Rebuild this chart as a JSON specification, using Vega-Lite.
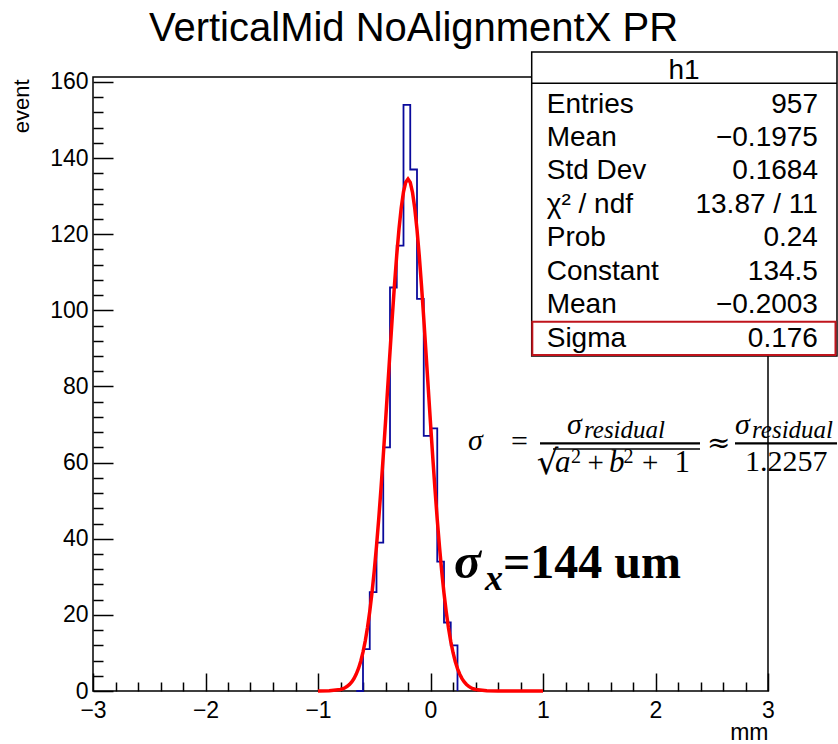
{
  "$schema": "https://vega.github.io/schema/vega-lite/v6.json",
  "width": 675,
  "height": 614,
  "autosize": {"type": "none"},
  "padding": {"left": 93, "top": 77, "right": 70, "bottom": 53},
  "background": "white",
  "config": {
    "view": {"stroke": "black", "strokeWidth": 1.5, "fill": "white"},
    "text": {"font": "Liberation Sans", "color": "black"}
  },
  "title": {
    "text": "VerticalMid NoAlignmentX PR",
    "font": "Liberation Sans",
    "fontSize": 40,
    "fontWeight": "normal",
    "color": "black",
    "anchor": "middle",
    "frame": "group",
    "dx": -17,
    "offset": -30,
    "baseline": "alphabetic"
  },
  "datasets": {
    "hist": [
      {"bin": -0.66, "count": 0},
      {"bin": -0.60, "count": 11},
      {"bin": -0.54, "count": 26},
      {"bin": -0.48, "count": 39},
      {"bin": -0.42, "count": 64},
      {"bin": -0.36, "count": 106},
      {"bin": -0.30, "count": 117},
      {"bin": -0.24, "count": 154},
      {"bin": -0.18, "count": 137},
      {"bin": -0.12, "count": 103},
      {"bin": -0.06, "count": 67},
      {"bin": 0.00, "count": 69},
      {"bin": 0.06, "count": 34},
      {"bin": 0.12, "count": 18},
      {"bin": 0.18, "count": 12},
      {"bin": 0.24, "count": 0}
    ],
    "fit": [
      {"x": -1.0, "f": 0.004}, {"x": -0.9, "f": 0.05}, {"x": -0.8, "f": 0.41},
      {"x": -0.78, "f": 0.59}, {"x": -0.76, "f": 0.86}, {"x": -0.74, "f": 1.22},
      {"x": -0.72, "f": 1.72}, {"x": -0.70, "f": 2.39}, {"x": -0.68, "f": 3.28},
      {"x": -0.66, "f": 4.44}, {"x": -0.64, "f": 5.93}, {"x": -0.62, "f": 7.83},
      {"x": -0.60, "f": 10.20}, {"x": -0.58, "f": 13.13}, {"x": -0.56, "f": 16.66},
      {"x": -0.54, "f": 20.88}, {"x": -0.52, "f": 25.84}, {"x": -0.50, "f": 31.56},
      {"x": -0.48, "f": 38.04}, {"x": -0.46, "f": 45.28}, {"x": -0.44, "f": 53.21},
      {"x": -0.42, "f": 61.71}, {"x": -0.40, "f": 70.65}, {"x": -0.38, "f": 79.87},
      {"x": -0.36, "f": 89.11}, {"x": -0.34, "f": 98.16}, {"x": -0.32, "f": 106.73},
      {"x": -0.30, "f": 114.56}, {"x": -0.28, "f": 121.40}, {"x": -0.26, "f": 126.98},
      {"x": -0.24, "f": 131.12}, {"x": -0.22, "f": 133.66}, {"x": -0.20, "f": 134.50},
      {"x": -0.18, "f": 133.61}, {"x": -0.16, "f": 131.02}, {"x": -0.14, "f": 126.83},
      {"x": -0.12, "f": 121.20}, {"x": -0.10, "f": 114.34}, {"x": -0.08, "f": 106.48},
      {"x": -0.06, "f": 97.88}, {"x": -0.04, "f": 88.83}, {"x": -0.02, "f": 79.59},
      {"x": 0.00, "f": 70.38}, {"x": 0.02, "f": 61.45}, {"x": 0.04, "f": 52.96},
      {"x": 0.06, "f": 45.05}, {"x": 0.08, "f": 37.84}, {"x": 0.10, "f": 31.37},
      {"x": 0.12, "f": 25.68}, {"x": 0.14, "f": 20.74}, {"x": 0.16, "f": 16.54},
      {"x": 0.18, "f": 13.03}, {"x": 0.20, "f": 10.12}, {"x": 0.22, "f": 7.77},
      {"x": 0.24, "f": 5.88}, {"x": 0.26, "f": 4.40}, {"x": 0.28, "f": 3.25},
      {"x": 0.30, "f": 2.37}, {"x": 0.32, "f": 1.70}, {"x": 0.34, "f": 1.21},
      {"x": 0.36, "f": 0.85}, {"x": 0.38, "f": 0.59}, {"x": 0.40, "f": 0.41},
      {"x": 0.5, "f": 0.05}, {"x": 0.6, "f": 0.003}, {"x": 0.8, "f": 0}, {"x": 1.0, "f": 0}
    ],
    "stats": [
      {"row": 1, "label": "Entries", "value": "957"},
      {"row": 2, "label": "Mean", "value": "−0.1975"},
      {"row": 3, "label": "Std Dev", "value": "0.1684"},
      {"row": 4, "label": "χ² / ndf", "value": "13.87 / 11"},
      {"row": 5, "label": "Prob", "value": "0.24"},
      {"row": 6, "label": "Constant", "value": "134.5"},
      {"row": 7, "label": "Mean", "value": "−0.2003"},
      {"row": 8, "label": "Sigma", "value": "0.176"}
    ]
  },
  "resolve": {"scale": {"y": "independent"}},
  "layer": [
    {
      "resolve": {"axis": {"x": "independent", "y": "independent"}},
      "layer": [
        {
          "data": {"name": "hist"},
          "mark": {"type": "line", "interpolate": "step-after", "color": "#0a0a9c", "strokeWidth": 1.8},
          "encoding": {
            "x": {
              "field": "bin", "type": "quantitative",
              "scale": {"domain": [-3, 3], "nice": false, "zero": false},
              "axis": {
                "orient": "bottom",
                "values": [-3, -2, -1, 0, 1, 2, 3],
                "format": "d",
                "tickSize": -18,
                "tickColor": "black", "tickWidth": 1.5,
                "domain": false, "grid": false,
                "labelFont": "Liberation Sans", "labelFontSize": 23, "labelColor": "black",
                "labelPadding": 26, "labelFlush": false, "labelOverlap": false,
                "title": "mm", "titleFont": "Liberation Sans", "titleFontSize": 23, "titleFontWeight": "normal",
                "titleColor": "black", "titleAnchor": "end", "titleAlign": "right", "titleBaseline": "alphabetic",
                "titleX": 675, "titleY": 48
              }
            },
            "y": {
              "field": "count", "type": "quantitative",
              "scale": {"domain": [0, 161.3], "nice": false, "zero": false},
              "axis": {
                "orient": "left",
                "values": [0, 20, 40, 60, 80, 100, 120, 140, 160],
                "format": "d",
                "tickSize": -20,
                "tickColor": "black", "tickWidth": 1.5,
                "domain": false, "grid": false,
                "labelFont": "Liberation Sans", "labelFontSize": 23, "labelColor": "black",
                "labelPadding": 25, "labelFlush": false, "labelOverlap": false,
                "title": "event", "titleFont": "Liberation Sans", "titleFontSize": 22, "titleFontWeight": "normal",
                "titleColor": "black", "titleAngle": 270, "titleAlign": "right", "titleBaseline": "alphabetic",
                "titleX": -65, "titleY": 2
              }
            }
          }
        },
        {
          "data": {"name": "fit"},
          "mark": {"type": "line", "color": "#ff0000", "strokeWidth": 3.5},
          "encoding": {
            "x": {
              "field": "x", "type": "quantitative",
              "scale": {"domain": [-3, 3], "nice": false, "zero": false},
              "axis": {
                "orient": "bottom",
                "values": [-2.8,-2.6,-2.4,-2.2,-1.8,-1.6,-1.4,-1.2,-0.8,-0.6,-0.4,-0.2,0.2,0.4,0.6,0.8,1.2,1.4,1.6,1.8,2.2,2.4,2.6,2.8],
                "labels": false, "tickSize": -9, "tickColor": "black", "tickWidth": 1.5,
                "domain": false, "grid": false, "title": null
              }
            },
            "y": {
              "field": "f", "type": "quantitative",
              "scale": {"domain": [0, 161.3], "nice": false, "zero": false},
              "axis": {
                "orient": "left",
                "values": [4,8,12,16,24,28,32,36,44,48,52,56,64,68,72,76,84,88,92,96,104,108,112,116,124,128,132,136,144,148,152,156],
                "labels": false, "tickSize": -10, "tickColor": "black", "tickWidth": 1.5,
                "domain": false, "grid": false, "title": null
              }
            }
          }
        },
        {
          "data": {"values": [{}]},
          "mark": {"type": "text", "text": "σ", "font": "Liberation Serif", "fontStyle": "italic", "fontSize": 30, "align": "left", "baseline": "alphabetic"},
          "encoding": {"x": {"datum": 0.3333, "axis": null}, "y": {"datum": 63.32, "axis": null}}
        },
        {
          "data": {"values": [{}]},
          "mark": {"type": "text", "text": "=", "font": "Liberation Serif", "fontSize": 30, "align": "left", "baseline": "alphabetic"},
          "encoding": {"x": {"datum": 0.7156, "axis": null}, "y": {"datum": 63.06, "axis": null}}
        },
        {
          "data": {"values": [{}]},
          "mark": {"type": "text", "text": "σ", "font": "Liberation Serif", "fontStyle": "italic", "fontSize": 30, "align": "left", "baseline": "alphabetic"},
          "encoding": {"x": {"datum": 1.2133, "axis": null}, "y": {"datum": 67.52, "axis": null}}
        },
        {
          "data": {"values": [{}]},
          "mark": {"type": "text", "text": "residual", "font": "Liberation Serif", "fontStyle": "italic", "fontSize": 25, "align": "left", "baseline": "alphabetic"},
          "encoding": {"x": {"datum": 1.3644, "axis": null}, "y": {"datum": 66.47, "axis": null}}
        },
        {
          "data": {"values": [{}]},
          "mark": {"type": "rule", "color": "black", "strokeWidth": 2.2},
          "encoding": {"x": {"datum": 0.9733, "axis": null}, "x2": {"datum": 2.3956}, "y": {"datum": 65.03, "axis": null}}
        },
        {
          "data": {"values": [{}]},
          "mark": {"type": "rule", "color": "black", "strokeWidth": 1.6},
          "encoding": {"x": {"datum": 1.0889, "axis": null}, "x2": {"datum": 2.3956}, "y": {"datum": 63.58, "axis": null}}
        },
        {
          "data": {"values": [{}]},
          "mark": {"type": "text", "text": "√", "font": "DejaVu Serif", "fontSize": 34, "align": "left", "baseline": "alphabetic"},
          "encoding": {"x": {"datum": 0.945, "axis": null}, "y": {"datum": 57.02, "axis": null}}
        },
        {
          "data": {"values": [{}]},
          "mark": {"type": "text", "text": "a", "font": "Liberation Serif", "fontStyle": "italic", "fontSize": 31, "align": "left", "baseline": "alphabetic"},
          "encoding": {"x": {"datum": 1.1067, "axis": null}, "y": {"datum": 57.54, "axis": null}}
        },
        {
          "data": {"values": [{}]},
          "mark": {"type": "text", "text": "2", "font": "Liberation Serif", "fontSize": 20, "align": "left", "baseline": "alphabetic"},
          "encoding": {"x": {"datum": 1.2489, "axis": null}, "y": {"datum": 59.91, "axis": null}}
        },
        {
          "data": {"values": [{}]},
          "mark": {"type": "text", "text": "+", "font": "Liberation Serif", "fontSize": 29, "align": "left", "baseline": "alphabetic"},
          "encoding": {"x": {"datum": 1.3956, "axis": null}, "y": {"datum": 57.54, "axis": null}}
        },
        {
          "data": {"values": [{}]},
          "mark": {"type": "text", "text": "b", "font": "Liberation Serif", "fontStyle": "italic", "fontSize": 31, "align": "left", "baseline": "alphabetic"},
          "encoding": {"x": {"datum": 1.5867, "axis": null}, "y": {"datum": 57.54, "axis": null}}
        },
        {
          "data": {"values": [{}]},
          "mark": {"type": "text", "text": "2", "font": "Liberation Serif", "fontSize": 20, "align": "left", "baseline": "alphabetic"},
          "encoding": {"x": {"datum": 1.7156, "axis": null}, "y": {"datum": 59.91, "axis": null}}
        },
        {
          "data": {"values": [{}]},
          "mark": {"type": "text", "text": "+", "font": "Liberation Serif", "fontSize": 29, "align": "left", "baseline": "alphabetic"},
          "encoding": {"x": {"datum": 1.88, "axis": null}, "y": {"datum": 57.54, "axis": null}}
        },
        {
          "data": {"values": [{}]},
          "mark": {"type": "text", "text": "1", "font": "Liberation Serif", "fontSize": 31, "align": "left", "baseline": "alphabetic"},
          "encoding": {"x": {"datum": 2.1689, "axis": null}, "y": {"datum": 57.54, "axis": null}}
        },
        {
          "data": {"values": [{}]},
          "mark": {"type": "text", "text": "≈", "font": "DejaVu Serif", "fontSize": 28, "align": "left", "baseline": "alphabetic"},
          "encoding": {"x": {"datum": 2.4578, "axis": null}, "y": {"datum": 62.8, "axis": null}}
        },
        {
          "data": {"values": [{}]},
          "mark": {"type": "text", "text": "σ", "font": "Liberation Serif", "fontStyle": "italic", "fontSize": 30, "align": "left", "baseline": "alphabetic"},
          "encoding": {"x": {"datum": 2.7067, "axis": null}, "y": {"datum": 67.52, "axis": null}}
        },
        {
          "data": {"values": [{}]},
          "mark": {"type": "text", "text": "residual", "font": "Liberation Serif", "fontStyle": "italic", "fontSize": 25, "align": "left", "baseline": "alphabetic"},
          "encoding": {"x": {"datum": 2.8578, "axis": null}, "y": {"datum": 66.47, "axis": null}}
        },
        {
          "data": {"values": [{}]},
          "mark": {"type": "rule", "color": "black", "strokeWidth": 2.2},
          "encoding": {"x": {"datum": 2.7067, "axis": null}, "x2": {"datum": 3.6133}, "y": {"datum": 65.03, "axis": null}}
        },
        {
          "data": {"values": [{}]},
          "mark": {"type": "text", "text": "1.2257", "font": "Liberation Serif", "fontSize": 30, "align": "left", "baseline": "alphabetic"},
          "encoding": {"x": {"datum": 2.7956, "axis": null}, "y": {"datum": 57.8, "axis": null}}
        },
        {
          "data": {"values": [{}]},
          "mark": {"type": "text", "text": "σ", "font": "Liberation Serif", "fontStyle": "italic", "fontWeight": "bold", "fontSize": 50, "align": "left", "baseline": "alphabetic"},
          "encoding": {"x": {"datum": 0.2089, "axis": null}, "y": {"datum": 29.69, "axis": null}}
        },
        {
          "data": {"values": [{}]},
          "mark": {"type": "text", "text": "x", "font": "Liberation Serif", "fontStyle": "italic", "fontWeight": "bold", "fontSize": 36, "align": "left", "baseline": "alphabetic"},
          "encoding": {"x": {"datum": 0.4844, "axis": null}, "y": {"datum": 26.54, "axis": null}}
        },
        {
          "data": {"values": [{}]},
          "mark": {"type": "text", "text": "=144 um", "font": "Liberation Serif", "fontWeight": "bold", "fontSize": 48, "align": "left", "baseline": "alphabetic"},
          "encoding": {"x": {"datum": 0.6444, "axis": null}, "y": {"datum": 29.69, "axis": null}}
        }
      ]
    },
    {
      "layer": [
        {
          "data": {"values": [{}]},
          "mark": {"type": "rect", "fill": "white", "stroke": "black", "strokeWidth": 1.5},
          "encoding": {
            "x": {"datum": 0.8996, "axis": null}, "x2": {"datum": 3.6133},
            "y": {"datum": -0.567, "axis": null}, "y2": {"datum": 8.507}
          }
        },
        {
          "data": {"values": [{}]},
          "mark": {"type": "rule", "color": "black", "strokeWidth": 1.5},
          "encoding": {
            "x": {"datum": 0.8996, "axis": null}, "x2": {"datum": 3.6133},
            "y": {"datum": 0.367, "axis": null}
          }
        },
        {
          "data": {"values": [{}]},
          "mark": {"type": "rect", "fill": null, "fillOpacity": 0, "stroke": "#c0141c", "strokeWidth": 2},
          "encoding": {
            "x": {"datum": 0.905, "axis": null}, "x2": {"datum": 3.60},
            "y": {"datum": 7.484, "axis": null}, "y2": {"datum": 8.478}
          }
        },
        {
          "data": {"values": [{}]},
          "mark": {"type": "text", "text": "h1", "font": "Liberation Sans", "fontSize": 28, "align": "center", "baseline": "middle"},
          "encoding": {"x": {"datum": 2.253, "axis": null}, "y": {"datum": 0, "axis": null}}
        },
        {
          "data": {"name": "stats"},
          "mark": {"type": "text", "font": "Liberation Sans", "fontSize": 28, "align": "left", "baseline": "middle"},
          "encoding": {
            "x": {"datum": 1.033, "axis": null},
            "y": {"field": "row", "type": "quantitative", "scale": {"domain": [0.1791, 18.5075], "reverse": true, "nice": false, "zero": false}, "axis": null},
            "text": {"field": "label"}
          }
        },
        {
          "data": {"name": "stats"},
          "mark": {"type": "text", "font": "Liberation Sans", "fontSize": 28, "align": "right", "baseline": "middle"},
          "encoding": {
            "x": {"datum": 3.444, "axis": null},
            "y": {"field": "row", "type": "quantitative", "scale": {"domain": [0.1791, 18.5075], "reverse": true, "nice": false, "zero": false}, "axis": null},
            "text": {"field": "value"}
          }
        }
      ]
    }
  ]
}
